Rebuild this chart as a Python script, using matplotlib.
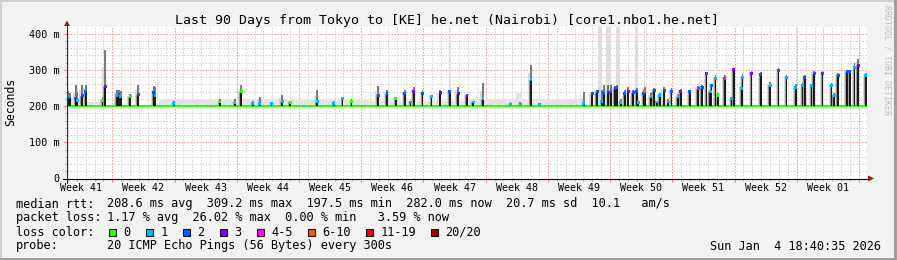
import matplotlib
matplotlib.use("Agg")
import matplotlib.pyplot as plt
import numpy as np
from matplotlib.patches import Rectangle, Polygon
from matplotlib.lines import Line2D

W, H = 897, 260
MONO = "DejaVu Sans Mono"

# ---------------- data ----------------
base_rtt = 199.0          # ms, floor the median sits on between spikes

week_names = ["Week 41", "Week 42", "Week 43", "Week 44", "Week 45", "Week 46", "Week 47",
              "Week 48", "Week 49", "Week 50", "Week 51", "Week 52", "Week 01"]
week_mid = [1.6, 8.6, 15.6, 22.6, 29.6, 36.6, 43.6, 50.6, 57.6, 64.6, 71.6, 78.6, 85.6]
week_lines = [5.1, 12.1, 19.1, 26.1, 33.1, 40.1, 47.1, 54.1, 61.1, 68.1, 75.1, 82.1, 89.1]
y_ticks = [0, 100, 200, 300, 400]
y_labels = ["0", "100 m", "200 m", "300 m", "400 m"]

# spikes of the median rtt: day, median (ms), top of smoke (ms), loss bucket
spike_day = [0.1, 0.3, 1.0, 1.15, 1.7, 2.1, 4.0, 4.3, 5.6, 5.85, 6.05, 7.1, 8.0, 9.75, 9.9,
             12.0, 17.2, 18.9, 19.6, 20.9, 21.7, 23.0, 24.2, 25.1, 28.15, 30.0, 31.0, 32.0,
             35.0, 36.0, 37.0, 38.0, 38.65, 39.0, 40.0, 41.0, 42.0, 43.05, 44.0, 45.0, 45.7,
             46.8, 49.9, 51.0, 52.2, 53.2, 58.15, 59.1, 59.65, 60.15, 60.4, 60.9, 61.2, 61.65,
             61.85, 62.3, 62.75, 63.15, 63.7, 64.1, 64.3, 64.85, 65.0, 65.7, 66.05, 66.35,
             66.7, 67.2, 67.65, 68.0, 68.75, 69.05, 70.05, 71.0, 71.4, 71.5, 71.95, 72.35,
             72.5, 72.95, 73.2, 74.0, 74.75, 75.0, 75.9, 76.0, 77.0, 78.05, 79.1, 80.05, 80.95,
             82.0, 82.75, 83.0, 83.75, 84.05, 85.0, 86.0, 86.3, 86.75, 87.75, 88.05, 88.6,
             89.0, 89.85]
spike_rtt = [226, 222, 222, 214, 228, 239, 216, 254, 229, 232, 226, 225, 231, 237, 230,
             208, 211, 210, 239, 208, 207, 207, 213, 210, 212, 207, 220, 213,
             229, 234, 220, 234, 211, 239, 234, 225, 236, 239, 234, 229, 211,
             220, 204, 204, 272, 203, 206, 234, 239, 213, 234, 236, 239, 248,
             252, 210, 235, 241, 236, 239, 210, 234, 241, 225, 243, 211,
             229, 243, 211, 239, 225, 239, 239, 248, 252, 252, 289, 239,
             257, 275, 229, 276, 220, 300, 248, 278, 289, 287, 257, 298, 278,
             252, 257, 278, 257, 289, 289, 257, 229, 285, 294, 294, 306,
             312, 285]
spike_smoke = [240, 236, 257, 240, 259, 259, 225, 354, 243, 243, 240, 232, 257, 254, 252,
               215, 220, 218, 257, 215, 225, 212, 229, 215, 243, 215, 225, 220,
               254, 243, 225, 243, 215, 252, 243, 229, 243, 243, 252, 234, 215,
               264, 210, 210, 312, 208, 239, 240, 245, 245, 257, 257, 257, 255,
               258, 220, 245, 252, 245, 250, 215, 243, 252, 235, 250, 215,
               235, 252, 220, 250, 232, 248, 245, 255, 258, 258, 295, 245,
               262, 285, 235, 285, 226, 305, 255, 288, 296, 295, 265, 305, 286,
               260, 264, 286, 262, 296, 296, 264, 236, 292, 300, 300, 318,
               331, 292]
spike_loss = [1, 2, 2, 1, 2, 2, 0, 3, 1, 2, 1, 0, 2, 2, 1,
              1, 0, 1, 0, 1, 1, 1, 1, 0, 1, 1, 1, 0,
              2, 2, 0, 2, 1, 3, 2, 1, 3, 2, 3, 3, 1,
              1, 1, 1, 1, 1, 1, 2, 2, 1, 2, 3, 2, 3,
              2, 1, 2, 3, 2, 2, 1, 2, 5, 1, 2, 1,
              1, 2, 1, 2, 1, 3, 2, 4, 1, 2, 2, 1,
              2, 1, 0, 4, 1, 3, 1, 1, 3, 2, 1, 2, 1,
              1, 1, 2, 1, 2, 2, 1, 1, 2, 2, 2, 1,
              3, 1]

# faint background smoke just above the floor: start day, end day, top (ms)
haze_start = [0.3, 2.2, 10.3, 24.0, 34.0, 45.0, 50.5]
haze_end = [2.2, 4.0, 24.0, 34.0, 45.0, 58.0, 51.2]
haze_top = [222, 211, 220, 216, 214, 220, 235]

# smoke that reaches the top of the graph: start day, end day
tall_start = [43.0, 59.75, 60.6, 61.0, 61.8, 63.9, 64.95, 70.05, 73.05, 76.05, 79.05,
              82.05, 85.05, 88.05]
tall_end = [43.1, 60.2, 61.2, 61.12, 62.2, 64.2, 65.06, 70.12, 73.12, 76.12, 79.12,
            82.12, 85.12, 88.12]

loss_names = ["0", "1", "2", "3", "4-5", "6-10", "11-19", "20/20"]
loss_colors = ["#26ff00", "#00b8ff", "#0059ff", "#7e00ff", "#ff00ff", "#ff5500", "#ff0000", "#a10000"]

rtt_stats = [208.6, 309.2, 197.5, 282.0]   # avg, max, min, now (ms)
rtt_sd = 20.7
rtt_ams = 10.1
loss_stats = [1.17, 26.02, 0.00, 3.59]     # avg, max, min, now (%)


def fx(x):
    return x / W


def fy(y):
    return 1 - y / H


fig = plt.figure(figsize=(W / 100, H / 100), dpi=100)
fig.patch.set_facecolor("#f2f2f2")

# 3d-ish frame like rrdtool
fig.add_artist(Rectangle((0, fy(2)), 1, 2 / H, transform=fig.transFigure, color="#cfcfcf", lw=0))
fig.add_artist(Rectangle((0, 0), 2 / W, 1, transform=fig.transFigure, color="#cfcfcf", lw=0))
fig.add_artist(Rectangle((0, 0), 1, 2 / H, transform=fig.transFigure, color="#9e9e9e", lw=0))
fig.add_artist(Rectangle((fx(894), 0), 3 / W, 1, transform=fig.transFigure, color="#9e9e9e", lw=0))

top_px, bot_px = 27.0, 178.5
ax = fig.add_axes([fx(67), fy(bot_px), 800 / W, (bot_px - top_px) / H])
ax.set_facecolor("white")
ax.set_xlim(0, 90)
ax.set_ylim(0, (bot_px - top_px) / 0.3625)
for sp in ax.spines.values():
    sp.set_visible(False)

# grid
grid_dash = (0, (1.5, 1.5))
for d in np.arange(0.1, 90, 1.0):
    if min(abs(d - w) for w in week_lines) > 0.05:
        ax.axvline(d, color="#d2d2d2", lw=0.72, ls=grid_dash, zorder=0)
for v in range(20, 420, 20):
    if v % 100:
        ax.axhline(v, color="#d2d2d2", lw=0.72, ls=grid_dash, zorder=0)
for w in week_lines:
    ax.axvline(w, color="#eb9a9a", lw=0.72, ls=grid_dash, zorder=0)
for v in y_ticks[1:]:
    ax.axhline(v, color="#eb9a9a", lw=0.72, ls=grid_dash, zorder=0)

# ticks
ax.set_xticks(week_lines)
ax.set_xticklabels([])
ax.set_xticks(np.arange(0.1, 90, 1.0), minor=True)
ax.set_yticks(y_ticks)
ax.set_yticklabels(y_labels, family=MONO, fontsize=7.3)
ax.set_yticks(range(0, 420, 20), minor=True)
ax.tick_params(which="major", direction="out", length=2.2, width=0.72, color="#e07070", pad=3.3)
ax.tick_params(which="minor", direction="out", length=1.5, width=0.72, color="#b0b0b0")

for name, d in zip(week_names, week_mid):
    ax.text(d, -(191 - bot_px) / (bot_px - top_px), name, transform=ax.get_xaxis_transform(),
            ha="center", va="baseline", family=MONO, fontsize=7.2)

# smoke
day = np.array(spike_day)
rtt = np.array(spike_rtt, dtype=float)
smk = np.array(spike_smoke, dtype=float)
ax.bar(haze_start, np.array(haze_top) - base_rtt, bottom=base_rtt,
       width=np.array(haze_end) - np.array(haze_start), align="edge", color="#e4e4e4", lw=0, zorder=1)
ax.bar(tall_start, ax.get_ylim()[1] - base_rtt, bottom=base_rtt,
       width=np.array(tall_end) - np.array(tall_start), align="edge", color="#dedede", lw=0, zorder=1)
ax.bar(day - 0.32, (rtt + smk) / 2 - base_rtt, bottom=base_rtt, width=0.34, align="edge",
       color="#dadada", lw=0, zorder=2)
ax.bar(day - 0.2, rtt - base_rtt, bottom=base_rtt, width=0.2, align="edge",
       color="#9a9a9a", lw=0, zorder=3)
ax.bar(day, smk - rtt, bottom=rtt, width=0.2, color="#7a7a7a", lw=0, zorder=3)

# median rtt, coloured by loss
ax.hlines(base_rtt, 0, 90, color=loss_colors[0], lw=1.5, zorder=4)
ax.bar(day, rtt - base_rtt, bottom=base_rtt, width=0.2, color="#1c1c1c", lw=0, zorder=5)
ax.scatter(day, rtt, marker="s", s=4.5, c=[loss_colors[i] for i in spike_loss], lw=0, zorder=6)

# axes with arrows
fig.add_artist(Line2D([fx(63), fx(869)], [fy(bot_px)] * 2, color="black", lw=0.8))
fig.add_artist(Line2D([fx(67)] * 2, [fy(183), fy(25)], color="#333333", lw=0.8))
fig.add_artist(Polygon([(fx(868), fy(175.5)), (fx(874), fy(bot_px)), (fx(868), fy(181.5))],
                       closed=True, transform=fig.transFigure, color="#9b1c1c", lw=0))
fig.add_artist(Polygon([(fx(64), fy(26)), (fx(70), fy(26)), (fx(67), fy(20.5))],
                       closed=True, transform=fig.transFigure, color="#9b1c1c", lw=0))

# texts
fig.text(fx(447), fy(24), "Last 90 Days from Tokyo to [KE] he.net (Nairobi) [core1.nbo1.he.net]",
         ha="center", va="baseline", family=MONO, fontsize=9.5)
fig.text(fx(10.7), fy(102.3), "Seconds", rotation=90, ha="center", va="center",
         family=MONO, fontsize=8.3)
fig.text(fx(887), fy(60), "RRDTOOL / TOBI OETIKER", rotation=270, ha="center", va="center",
         family=MONO, fontsize=6, color="#bdbdbd")

lfs = 8.55
line1 = "%.1f ms avg  %.1f ms max  %.1f ms min  %.1f ms now  %.1f ms sd  %.1f   am/s" % (
    rtt_stats[0], rtt_stats[1], rtt_stats[2], rtt_stats[3], rtt_sd, rtt_ams)
line2 = "%.2f %% avg  %.2f %% max  %.2f %% min  %5.2f %% now" % tuple(loss_stats)
rows = [("median rtt:", line1, 207.5), ("packet loss:", line2, 221.5),
        ("loss color:", "", 235.5), ("probe:", "20 ICMP Echo Pings (56 Bytes) every 300s", 249.5)]
for lab, val, yb in rows:
    fig.text(fx(15.5), fy(yb), lab, ha="left", va="baseline", family=MONO, fontsize=lfs)
    fig.text(fx(107), fy(yb), val, ha="left", va="baseline", family=MONO, fontsize=lfs)

box_x = [108.7, 145.7, 182.7, 219.5, 256.7, 307.5, 365.5, 431]
for bx, name, col in zip(box_x, loss_names, loss_colors):
    fig.add_artist(Rectangle((fx(bx), fy(236)), 7.3 / W, 7.3 / H, transform=fig.transFigure,
                             facecolor=col, edgecolor="black", lw=0.7))
    fig.text(fx(bx + 14.6), fy(235.5), name, ha="left", va="baseline", family=MONO, fontsize=lfs)

fig.text(fx(880.5), fy(249.5), "Sun Jan  4 18:40:35 2026", ha="right", va="baseline",
         family=MONO, fontsize=lfs)

fig.savefig("out.png", dpi=100, facecolor=fig.get_facecolor())
plt.close(fig)
